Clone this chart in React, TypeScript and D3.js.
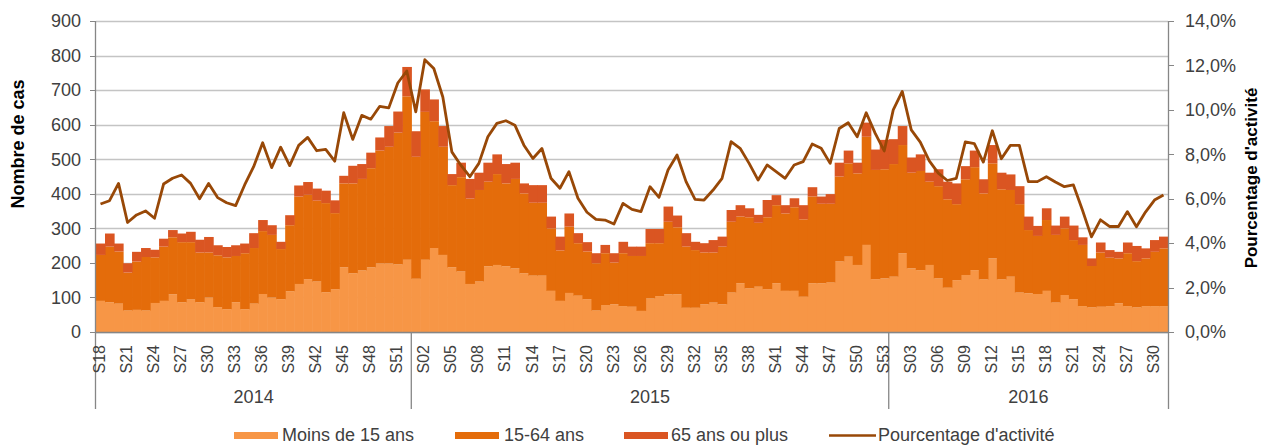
import React from "react";
import * as d3 from "d3";

const years = ["2014", "2015", "2016"];
const weeksPerYear = [
  d3.range(18, 53),
  d3.range(1, 54),
  d3.range(1, 32),
];

const under15 = [90,86,82,62,64,62,84,90,109,86,94,86,100,72,66,86,66,82,110,100,95,118,139,153,146,115,124,187,170,178,187,199,199,196,209,
154,209,243,223,187,175,139,146,190,194,190,184,170,163,163,119,90,113,105,95,62,78,80,75,73,61,97,104,109,109,70,70,80,85,80,114,141,126,131,124,141,119,119,102,141,141,143,204,218,194,252,153,155,
160,228,184,179,194,155,128,150,165,179,152,213,152,160,114,112,110,119,85,107,95,75,71,73,75,83,75,71,75,75,75];

const upTo64 = [223,247,233,172,204,217,216,247,274,260,260,230,230,222,216,220,228,243,292,281,240,309,392,397,380,373,344,430,430,443,474,525,536,577,682,
507,637,610,536,425,448,386,411,435,457,430,443,401,374,374,300,236,305,257,233,199,228,201,228,220,220,257,257,319,303,247,237,230,230,247,319,334,332,316,332,367,343,361,326,392,371,371,450,488,459,565,469,471,
486,541,461,466,435,422,384,370,442,477,401,488,413,411,370,295,278,324,281,300,266,252,191,230,215,213,228,205,213,232,242];

const totals = [256,285,256,199,232,243,238,270,295,285,290,267,275,251,246,251,256,286,324,309,261,338,424,434,415,409,381,452,481,486,519,563,596,638,767,
581,702,673,596,457,490,443,461,490,514,486,490,430,425,425,334,276,343,286,260,228,252,228,261,247,247,298,298,363,337,286,261,257,266,276,353,367,358,339,382,396,367,387,367,419,392,399,490,525,490,606,528,556,
558,596,505,514,461,471,435,430,480,525,442,541,461,456,422,334,307,358,308,334,308,274,213,259,237,232,259,249,242,266,276];

const activity = [5.76,5.91,6.69,4.93,5.27,5.45,5.12,6.66,6.92,7.07,6.69,6.0,6.69,6.05,5.82,5.69,6.62,7.44,8.52,7.40,8.32,7.49,8.40,8.76,8.16,8.22,7.69,9.87,8.67,9.75,9.58,10.16,10.09,11.21,11.75,
9.91,12.26,11.86,10.58,8.11,7.51,6.99,7.59,8.79,9.39,9.51,9.31,8.41,7.81,8.26,6.92,6.47,7.22,6.02,5.39,5.07,5.04,4.86,5.79,5.52,5.42,6.54,6.06,7.29,7.97,6.77,5.97,5.94,6.39,6.92,8.57,8.27,7.59,6.84,7.52,7.22,6.92,7.52,7.67,8.46,8.27,7.59,9.16,9.42,8.79,9.87,8.94,8.15,
10.0,10.83,9.1,8.55,7.7,7.15,6.82,6.92,8.56,8.48,7.65,9.06,7.8,8.4,8.4,6.77,6.77,6.99,6.75,6.54,6.62,5.49,4.28,5.05,4.75,4.75,5.42,4.74,5.4,5.94,6.17];

const leftTicks = [0, 100, 200, 300, 400, 500, 600, 700, 800, 900];
const rightTicks = [0, 2, 4, 6, 8, 10, 12, 14];
const seriesNames = ["Moins de 15 ans", "15-64 ans", "65 ans ou plus"];
const lineName = "Pourcentage d'activité";

const colors = ["#F79646", "#E46C0A", "#DA5522"];
const lineColor = "#984807";
const textColor = "#404040";
const font = "'Liberation Sans', Arial, sans-serif";

type Row = { i: number; a: number; b: number; c: number };

export default function App() {
  const W = 1261, H = 445;
  const L = 96, R = 1168, T = 21, B = 332;

  const weeks: { year: string; w: number }[] = [];
  years.forEach((y, k) => weeksPerYear[k].forEach((w) => weeks.push({ year: y, w })));

  const rows: Row[] = weeks.map((_, i) => ({
    i,
    a: under15[i],
    b: upTo64[i] - under15[i],
    c: totals[i] - upTo64[i],
  }));

  const x = d3.scaleBand<number>().domain(d3.range(weeks.length)).range([L, R]).padding(0);
  const y = d3.scaleLinear().domain([0, 900]).range([B, T]);
  const y2 = d3.scaleLinear().domain([0, 14]).range([B, T]);
  const stack = d3.stack<Row>().keys(["a", "b", "c"]);
  const layers = stack(rows);
  const bw = x.bandwidth();

  const line = d3
    .line<number>()
    .x((_, i) => (x(i) as number) + bw / 2)
    .y((d) => y2(d));

  const bounds: number[] = [];
  let acc = 0;
  weeksPerYear.forEach((arr) => {
    bounds.push(acc);
    acc += arr.length;
  });
  bounds.push(acc);
  const bx = (i: number) => (i >= weeks.length ? R : (x(i) as number));

  const fmtPct = (v: number) => v.toFixed(1).replace(".", ",") + "%";

  return (
    <svg width={W} height={H} style={{ position: "absolute", left: 0, top: 0, fontFamily: font }}>
      <rect width={W} height={H} fill="#fff" />
      {leftTicks.map((t) => (
        <line key={"g" + t} x1={L} x2={R} y1={Math.round(y(t)) + 0.5} y2={Math.round(y(t)) + 0.5} stroke="#C4C4C4" strokeWidth={1.3} />
      ))}
      {layers.map((layer, li) => (
        <g key={li} fill={colors[li]}>
          {layer.map((d, i) => (
            <rect key={i} x={x(i) as number} width={bw + 0.6} y={y(d[1])} height={Math.max(0, y(d[0]) - y(d[1]))} />
          ))}
        </g>
      ))}
      <path d={line(activity) || ""} fill="none" stroke={lineColor} strokeWidth={2.8} strokeLinejoin="round" />
      <line x1={L - 0.5} x2={L - 0.5} y1={T} y2={409} stroke="#868686" strokeWidth={1.3} />
      <line x1={R + 0.5} x2={R + 0.5} y1={T} y2={409} stroke="#868686" strokeWidth={1.3} />
      <line x1={L} x2={R} y1={B + 0.5} y2={B + 0.5} stroke="#868686" strokeWidth={1.3} />
      {bounds.slice(1, -1).map((b) => (
        <line key={"s" + b} x1={bx(b)} x2={bx(b)} y1={B} y2={409} stroke="#868686" strokeWidth={1.3} />
      ))}
      {leftTicks.map((t) => (
        <g key={"l" + t}>
          <line x1={L - 6} x2={L} y1={Math.round(y(t)) + 0.5} y2={Math.round(y(t)) + 0.5} stroke="#868686" />
          <text x={81} y={y(t)} dy="0.35em" textAnchor="end" fontSize={18} fill={textColor}>
            {t}
          </text>
        </g>
      ))}
      {rightTicks.map((t) => (
        <g key={"r" + t}>
          <line x1={R} x2={R + 6} y1={Math.round(y2(t)) + 0.5} y2={Math.round(y2(t)) + 0.5} stroke="#868686" />
          <text x={1185} y={y2(t)} dy="0.35em" textAnchor="start" fontSize={18} fill={textColor}>
            {fmtPct(t)}
          </text>
        </g>
      ))}
      {weeks.map((wk, i) =>
        i % 3 === 0 ? (
          <text
            key={"w" + i}
            transform={`translate(${(x(i) as number) + bw / 2 - 1},345) rotate(-90)`}
            textAnchor="end"
            dy="0.35em"
            fontSize={16}
            fill={textColor}
          >
            {"S" + String(wk.w).padStart(2, "0")}
          </text>
        ) : null
      )}
      {years.map((yr, k) => (
        <text key={yr} x={(bx(bounds[k]) + bx(bounds[k + 1])) / 2} y={403} textAnchor="middle" fontSize={18} fill={textColor}>
          {yr}
        </text>
      ))}
      <text transform="translate(24,144) rotate(-90)" textAnchor="middle" fontSize={18} fontWeight="bold" fill="#000">
        Nombre de cas
      </text>
      <text transform="translate(1257,178) rotate(-90)" textAnchor="middle" fontSize={17} fontWeight="bold" fill="#000">
        {lineName}
      </text>
      {[
        { x: 234, tx: 282 },
        { x: 455, tx: 504 },
        { x: 624, tx: 671 },
      ].map((p, k) => (
        <g key={"lg" + k}>
          <rect x={p.x} y={432} width={44} height={7} fill={colors[k]} />
          <text x={p.tx} y={441} fontSize={18} fill={textColor}>
            {seriesNames[k]}
          </text>
        </g>
      ))}
      <line x1={829} x2={876} y1={435.5} y2={435.5} stroke={lineColor} strokeWidth={2.6} />
      <text x={878} y={441} fontSize={18} fill={textColor}>
        {lineName}
      </text>
    </svg>
  );
}
